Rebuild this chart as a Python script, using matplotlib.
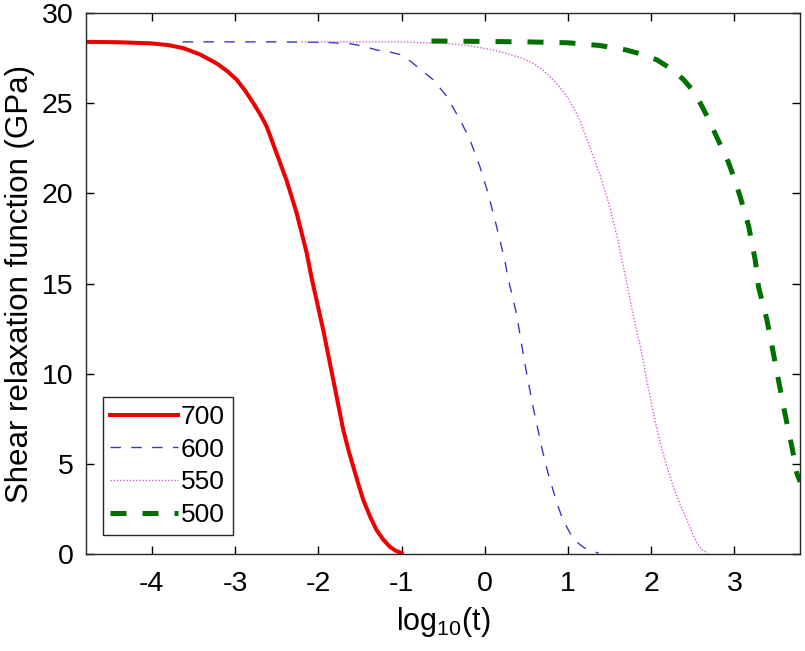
import numpy as np
import matplotlib
matplotlib.use("Agg")
import matplotlib.pyplot as plt

plt.rcParams['font.family'] = ['Liberation Sans', 'DejaVu Sans']
plt.rcParams['mathtext.default'] = 'regular'
plt.rcParams['axes.unicode_minus'] = False

# log10(t) and G(t), one pair of lists per temperature
x_700 = [-4.79, -4.4, -4.02, -3.8, -3.62, -3.42, -3.22, -3.1, -2.98, -2.88, -2.78, -2.70,
         -2.62, -2.50, -2.38, -2.26, -2.14, -2.08, -1.94, -1.82, -1.70, -1.64, -1.58,
         -1.52, -1.46, -1.38, -1.30, -1.22, -1.14, -1.07, -1.0]
g_700 = [28.4, 28.38, 28.32, 28.22, 28.05, 27.7, 27.2, 26.8, 26.3, 25.7, 25.0, 24.4,
         23.7, 22.2, 20.7, 18.9, 16.7, 15.3, 12.4, 9.65, 6.88, 5.8, 4.84,
         3.9, 3.0, 2.1, 1.33, 0.8, 0.4, 0.18, 0.05]

x_600 = [-3.63, -2.5, -1.9, -1.62, -1.45, -1.30, -1.15, -1.02, -0.90, -0.78, -0.62, -0.46,
         -0.30, -0.18, -0.06, 0.04, 0.14, 0.24, 0.28, 0.38, 0.48, 0.58, 0.70, 0.76,
         0.82, 0.88, 0.94, 1.02, 1.10, 1.20, 1.30, 1.37]
g_600 = [28.4, 28.4, 28.37, 28.3, 28.15, 27.95, 27.85, 27.7, 27.35, 26.9, 26.3, 25.4,
         24.1, 23.0, 21.5, 20.0, 18.2, 16.3, 15.3, 13.35, 10.6, 8.17, 5.59, 4.5,
         3.55, 2.65, 1.89, 1.2, 0.68, 0.33, 0.13, 0.05]

x_550 = [-2.2, -1.02, -0.42, -0.20, -0.02, 0.15, 0.30, 0.45, 0.58, 0.68, 0.78, 0.88, 0.98,
         1.06, 1.14, 1.26, 1.38, 1.50, 1.60, 1.68, 1.78, 1.87, 1.97, 2.07, 2.13, 2.19,
         2.25, 2.31, 2.37, 2.43, 2.49, 2.55, 2.62, 2.68]
g_550 = [28.4, 28.4, 28.3, 28.2, 28.05, 27.9, 27.7, 27.5, 27.2, 26.9, 26.5, 26.0, 25.4,
         24.8, 24.1, 22.6, 21.1, 19.3, 17.4, 15.6, 13.35, 11.5, 9.1, 6.88, 5.8, 4.84,
         3.95, 3.18, 2.5, 1.89, 1.2, 0.59, 0.2, 0.05]

x_500 = [-0.64, 0.5, 1.0, 1.38, 1.70, 1.90, 2.07, 2.24, 2.39, 2.50, 2.59, 2.68, 2.77,
         2.85, 2.93, 3.00, 3.07, 3.17, 3.25, 3.29, 3.39, 3.49, 3.59, 3.69, 3.75, 3.79]
g_500 = [28.45, 28.4, 28.35, 28.2, 27.95, 27.7, 27.4, 26.9, 26.3, 25.7, 25.0, 24.2, 23.3,
         22.5, 21.7, 20.8, 19.8, 18.2, 16.3, 14.8, 13.0, 10.6, 8.17, 5.95, 4.48, 4.0]

labels = ['700', '600', '550', '500']
xticks = [-4, -3, -2, -1, 0, 1, 2, 3]
yticks = [0, 5, 10, 15, 20, 25, 30]

fig = plt.figure(figsize=(8.05, 6.51), dpi=100)
ax = fig.add_axes([0.107, 0.149, 0.887, 0.831])

ax.plot(x_700, g_700, color='#ee0000', lw=2.9, label=labels[0], solid_joinstyle='round')
ax.plot(x_600, g_600, color='#3838c0', lw=1.0, dashes=(7.5, 7.5), label=labels[1])
ax.plot(x_550, g_550, color='#d060d0', lw=1.0, dashes=(1.0, 1.3), label=labels[2])
ax.plot(x_500, g_500, color='#007000', lw=3.6, dashes=(3.2, 3.2), label=labels[3])

ax.set_xlim(-4.79, 3.79)
ax.set_ylim(0, 30)
ax.set_xticks(xticks)
ax.set_yticks(yticks)
ax.tick_params(direction='in', top=True, right=True, length=6, width=1,
               labelsize=20.5)
ax.tick_params(axis='x', pad=12)
ax.tick_params(axis='y', pad=9)
for s in ax.spines.values():
    s.set_linewidth(1.0)
    s.set_color('#262626')

ax.set_xlabel('log$_{10}$(t)', fontsize=22, labelpad=6)
ax.set_ylabel('Shear relaxation function (GPa)', fontsize=22.5, labelpad=5)

leg = ax.legend(loc='lower left', bbox_to_anchor=(0.023, 0.035), borderaxespad=0,
                fontsize=19, handlelength=2.55, handletextpad=0.12,
                labelspacing=0.33, borderpad=0.3, fancybox=False, framealpha=1)
leg.get_frame().set_edgecolor('#262626')
leg.get_frame().set_linewidth(1.0)

fig.savefig('out.png', dpi=100)
